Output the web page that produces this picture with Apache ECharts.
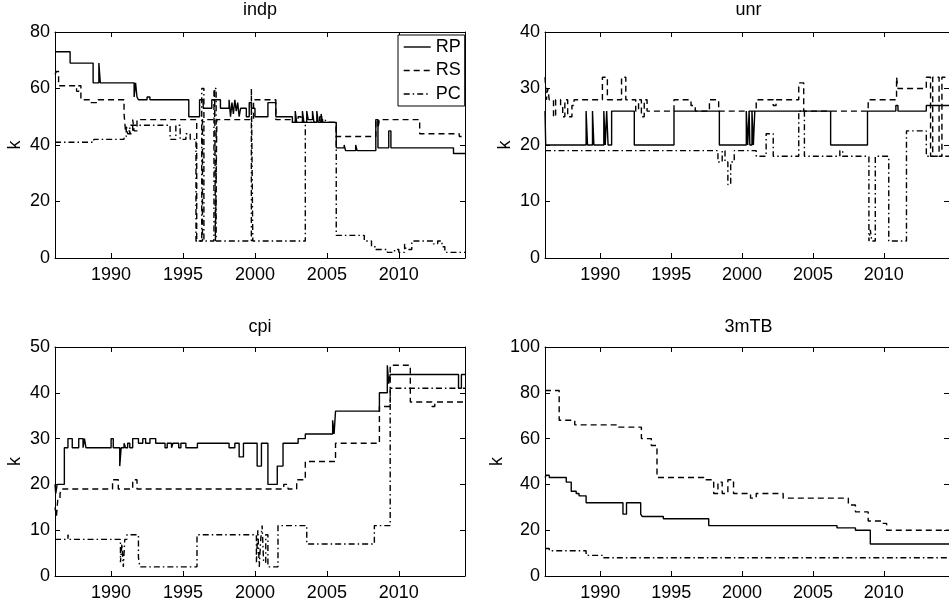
<!DOCTYPE html>
<html>
<head>
<meta charset="utf-8">
<title>indp / unr / cpi / 3mTB</title>
<script src="https://cdn.jsdelivr.net/npm/echarts@6/dist/echarts.min.js"></script>
<style>
  html, body { margin: 0; padding: 0; background: #fff; }
  #chart { width: 949px; height: 603px; }
</style>
</head>
<body>
<div id="chart"></div>
<script>
// x axis: monthly sample span and labelled years
const xStart = 1986.1;
const xEnd = 2014.6;
const yearTicks = [1990, 1995, 2000, 2005, 2010];

// each series is a step function: [year, k] means "from this year on, k"
const indpRP = [[1986.1,73],[1987.15,69],[1988.75,62],[1989.15,69],[1989.25,62],[1991.6,57],[1991.7,62],[1991.8,57],[1991.9,56],
  [1992.5,57],[1992.7,56],[1995.4,50],[1996.15,56],[1996.4,53],[1997.0,56],[1997.6,53],[1998.2,56],[1998.3,50],[1998.4,55],
  [1998.5,51],[1998.6,56],[1998.7,52],[1998.8,55],[1998.9,50],[1999.0,53],[1999.4,50],[1999.6,55],[1999.75,53],[2000.0,50],
  [2000.9,55],[2001.45,50],[2002.6,48],[2002.8,52],[2002.9,48],[2003.3,52],[2003.4,48],[2003.6,52],[2003.7,49],[2004.0,52],
  [2004.1,48],[2004.3,52],[2004.4,48],[2004.6,51],[2004.7,48],[2005.65,39],[2006.2,40],[2006.3,38],[2007.0,40],[2007.1,38],
  [2008.4,49],[2008.55,39],[2009.3,45],[2009.45,39],[2013.8,37],[2014.6,37]];
const indpRS = [[1986.1,65],[1986.2,66],[1986.35,61],[1987.6,59],[1987.75,61],[1987.9,56],[1988.6,55],[1989.1,56],[1990.9,51],
  [1991.0,45],[1991.3,44],[1991.5,49],[1991.6,45],[1991.8,49],[1995.95,6],[1996.35,49],[1997.2,60],[1997.25,6],[1997.35,49],
  [1999.9,56],[2001.45,49],[2002.6,48],[2003.0,50],[2003.2,48],[2004.5,50],[2004.7,48],[2005.65,43],[2008.4,49],[2008.55,46],
  [2008.65,49],[2011.45,44],[2014.2,43],[2014.6,43]];
const indpPC = [[1986.1,41],[1988.8,42],[1990.9,43],[1991.05,47],[1991.15,44],[1991.3,47],[1994.1,42],[1994.5,47],[1994.8,42],
  [1995.2,44],[1995.5,42],[1995.9,6],[1996.3,60],[1996.45,6],[1997.15,60],[1997.3,6],[1999.75,60],[1999.85,6],[2003.5,48],
  [2004.6,49],[2004.9,48],[2005.65,8],[2007.6,6],[2008.1,4],[2008.4,3],[2009.2,2],[2009.7,3],[2010.0,2],[2010.4,5],[2010.5,3],
  [2010.9,6],[2012.4,5],[2012.7,6],[2013.0,4],[2013.2,2],[2014.6,2]];

const unrRP = [[1986.1,26],[1986.15,20],[1989.0,26],[1989.1,20],[1989.45,26],[1989.55,20],[1990.25,26],[1990.35,20],[1990.45,26],
  [1990.55,20],[1990.8,26],[1992.4,20],[1995.2,26],[1998.4,20],[2000.3,26],[2000.4,20],[2000.5,26],[2000.55,20],[2000.7,26],
  [2000.8,20],[2000.9,26],[2006.25,20],[2008.85,26],[2010.85,27],[2011.0,26],[2013.0,27],[2014.6,27]];
const unrRS = [[1986.1,32],[1986.2,28],[1986.3,30],[1986.4,28],[1986.7,25],[1986.85,28],[1987.2,27],[1987.35,25],[1987.5,28],
  [1987.7,25],[1988.0,27],[1988.15,28],[1990.15,32],[1990.5,28],[1991.5,32],[1991.8,28],[1992.5,26],[1992.7,28],[1992.9,25],
  [1993.1,28],[1993.3,26],[1995.2,28],[1996.4,27],[1996.7,26],[1997.7,28],[1998.35,26],[2001.0,28],[2002.2,27],[2002.4,28],
  [2004.0,31],[2004.35,26],[2008.9,28],[2010.9,32],[2011.0,30],[2013.0,32],[2013.3,18],[2013.45,32],[2013.9,18],[2014.1,32],
  [2014.6,32]];
const unrPC = [[1986.1,19],[1998.3,17],[1998.6,19],[1998.8,17],[1999.0,13],[1999.2,17],[1999.45,19],[2001.0,18],[2001.7,22],
  [2002.2,18],[2004.0,26],[2004.4,18],[2006.9,19],[2007.1,18],[2008.95,3],[2009.05,5],[2009.15,3],[2009.4,18],[2010.35,3],
  [2011.6,22.5],[2013.0,18],[2014.6,18]];

const cpiRP = [[1986.1,20],[1986.15,18],[1986.25,20],[1986.75,28],[1987.0,30],[1987.3,28],[1987.75,30],[1988.05,28],[1988.15,30],
  [1988.25,28],[1990.0,30],[1990.15,28],[1990.6,24],[1990.7,28],[1990.9,29],[1991.0,28],[1991.15,29],[1991.3,28],[1991.5,30],
  [1991.9,29],[1992.2,30],[1992.4,29],[1992.7,30],[1993.1,29],[1993.75,28],[1993.9,29],[1994.2,28],[1994.3,29],[1994.7,28],
  [1994.85,29],[1995.2,28],[1996.0,29],[1998.2,28],[1998.6,29],[1998.9,26],[1999.2,29],[2000.15,24],[2000.45,29],[2000.9,20],
  [2001.55,24],[2001.95,29],[2003.0,30],[2003.5,31],[2005.4,34],[2005.5,31],[2005.6,36],[2008.65,40],[2009.2,46],[2009.3,42],
  [2009.4,44],[2014.15,41],[2014.35,44],[2014.6,44]];
const cpiRS = [[1986.1,15],[1986.2,13],[1986.3,17],[1986.45,18],[1986.55,19],[1990.1,21],[1990.5,19],[1991.5,21],[1991.8,19],
  [2002.0,20],[2002.3,19],[2002.9,21],[2003.5,25],[2005.6,29],[2008.65,37],[2009.4,46],[2010.8,38],[2012.3,37],[2012.5,38],
  [2014.6,38]];
const cpiPC = [[1986.1,8],[1987.0,9],[1987.1,8],[1990.65,3],[1990.75,7],[1990.85,2],[1990.95,8],[1991.1,9],[1991.9,4],[1992.0,2],
  [1995.97,9],[2000.1,3],[2000.2,10],[2000.3,2],[2000.4,8],[2000.5,11],[2000.6,3],[2000.75,9],[2000.9,2],[2001.6,11],
  [2003.6,7],[2008.3,11],[2009.4,41],[2014.6,41]];

const tbRP = [[1986.1,43],[1986.2,44],[1986.4,43],[1987.6,41],[1987.95,37],[1988.3,36],[1988.5,35],[1989.0,32],[1991.6,27],
  [1991.85,32],[1992.85,27],[1992.95,26],[1994.45,25],[1997.65,22],[2006.7,21],[2008.0,20],[2009.05,14],[2014.6,14]];
const tbRS = [[1986.1,81],[1987.1,68],[1988.2,66],[1991.3,65],[1992.9,60],[1993.6,57],[1994.0,43],[1997.3,42],[1998.0,36],
  [1998.3,41],[1998.6,36],[1999.0,42],[1999.4,36],[2000.6,34],[2001.0,36],[2002.9,34],[2007.5,31],[2008.0,28],[2008.9,24],
  [2009.9,23],[2010.2,20],[2014.6,20]];
const tbPC = [[1986.1,12],[1986.4,11],[1989.0,9],[1990.2,8],[2014.6,8]];

const panelTitles = ['indp', 'unr', 'cpi', '3mTB'];
const yMaxes = [80, 40, 50, 100];
const ySteps = [20, 10, 10, 20];
const seriesNames = ['RP', 'RS', 'PC'];
const panelData = [
  [indpRP, indpRS, indpPC],
  [unrRP, unrRS, unrPC],
  [cpiRP, cpiRS, cpiPC],
  [tbRP, tbRS, tbPC]
];

// layout (pixels)
const boxes = [
  { left: 55, top: 32, width: 410, height: 226 },
  { left: 545, top: 32, width: 407, height: 226 },
  { left: 55, top: 347, width: 410, height: 229 },
  { left: 545, top: 347, width: 407, height: 229 }
];
const titleY = [10, 10, 327, 327];
const font = '"Liberation Sans", Arial, Helvetica, sans-serif';
const dash = { RP: 'solid', RS: [6, 4], PC: [6, 3, 1.5, 3] };

const chart = echarts.init(document.getElementById('chart'), null, { renderer: 'canvas' });

const grid = [], xAxis = [], yAxis = [], series = [], graphic = [];
boxes.forEach((b, i) => {
  grid.push({ left: b.left, top: b.top, width: b.width, height: b.height, containLabel: false });
  const tickBase = { show: true, inside: true, length: 5, lineStyle: { color: '#000', width: 1 } };
  // bottom axis with labels, top axis as box edge
  xAxis.push({
    type: 'value', gridIndex: i, min: xStart, max: xEnd, position: 'bottom',
    axisLine: { show: true, onZero: false, lineStyle: { color: '#000', width: 1 } },
    axisTick: Object.assign({ customValues: yearTicks }, tickBase),
    axisLabel: { customValues: yearTicks, formatter: v => String(v), color: '#000', fontSize: 18, fontFamily: font, margin: 8 },
    splitLine: { show: false }
  });
  xAxis.push({
    type: 'value', gridIndex: i, min: xStart, max: xEnd, position: 'top',
    axisLine: { show: true, onZero: false, lineStyle: { color: '#000', width: 1 } },
    axisTick: Object.assign({ customValues: yearTicks }, tickBase),
    axisLabel: { show: false },
    splitLine: { show: false }
  });
  yAxis.push({
    type: 'value', gridIndex: i, min: 0, max: yMaxes[i], interval: ySteps[i], position: 'left',
    name: 'k', nameLocation: 'middle', nameGap: 31,
    nameTextStyle: { color: '#000', fontSize: 18, fontFamily: font },
    axisLine: { show: true, onZero: false, lineStyle: { color: '#000', width: 1 } },
    axisTick: tickBase,
    axisLabel: { color: '#000', fontSize: 18, fontFamily: font, margin: 5 },
    splitLine: { show: false }
  });
  yAxis.push({
    type: 'value', gridIndex: i, min: 0, max: yMaxes[i], interval: ySteps[i], position: 'right',
    axisLine: { show: true, onZero: false, lineStyle: { color: '#000', width: 1 } },
    axisTick: tickBase,
    axisLabel: { show: false },
    splitLine: { show: false }
  });
  panelData[i].forEach((d, k) => {
    series.push({
      name: seriesNames[k], type: 'line', step: 'end',
      xAxisIndex: i * 2, yAxisIndex: i * 2,
      data: d, showSymbol: false, symbol: 'none', clip: true,
      lineStyle: { color: '#000', width: 1.4, type: dash[seriesNames[k]] },
      itemStyle: { color: '#000' },
      emphasis: { disabled: true }, silent: true, z: 3 - k
    });
  });
  graphic.push({
    type: 'text', x: b.left + b.width / 2, y: titleY[i],
    style: { text: panelTitles[i], fill: '#000', font: '18px ' + font, align: 'center', verticalAlign: 'middle' }
  });
});

chart.setOption({
  animation: false,
  backgroundColor: '#fff',
  grid, xAxis, yAxis, series, graphic,
  legend: {
    data: seriesNames,
    orient: 'vertical', left: 398, top: 35,
    padding: [3, 4, 3, 5], itemGap: 5.5,
    itemWidth: 27, itemHeight: 16,
    borderColor: '#000', borderWidth: 1, backgroundColor: '#fff',
    selectedMode: false,
    itemStyle: { opacity: 0 },
    lineStyle: { width: 1.4 },
    textStyle: { color: '#000', fontSize: 18, fontFamily: font }
  }
});
</script>
</body>
</html>
